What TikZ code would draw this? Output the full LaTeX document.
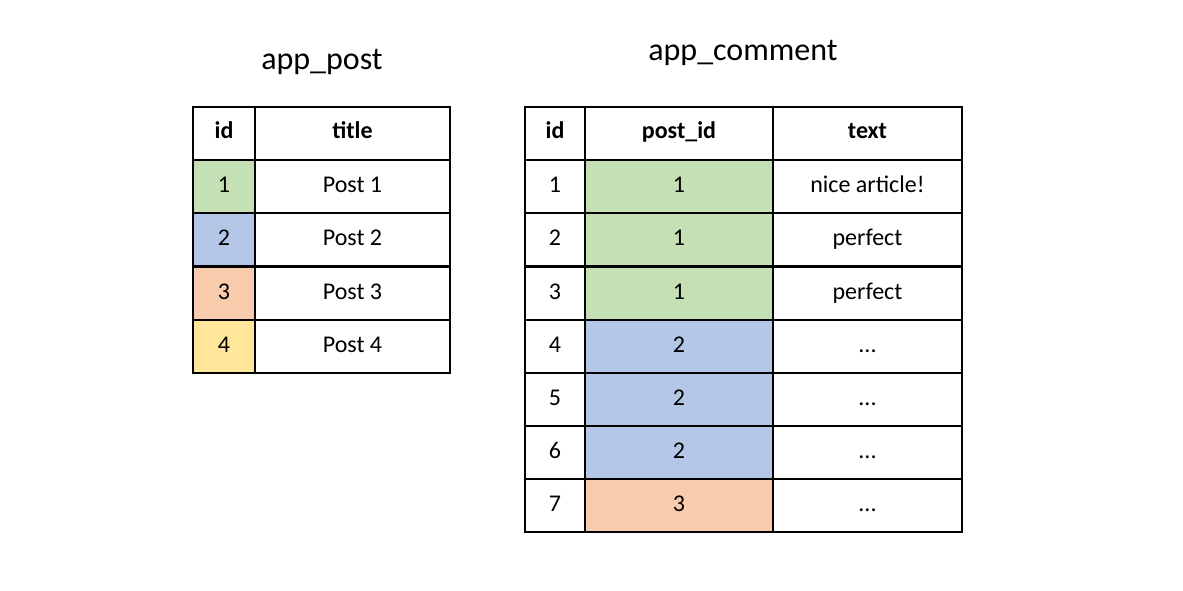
\documentclass[tikz,border=0pt]{standalone}
\usepackage{fontspec}
\setmainfont{Carlito}
\definecolor{cg}{HTML}{C5E0B4}
\definecolor{cb}{HTML}{B4C7E7}
\definecolor{co}{HTML}{F8CBAD}
\definecolor{cy}{HTML}{FFE699}
\newcommand\mydots{...}
\begin{document}
\begin{tikzpicture}[x=1pt,y=-1pt,
  cell/.style={draw=black,line width=1.2pt,inner sep=0pt,outer sep=0pt,anchor=north west,font=\fontsize{24}{28}\selectfont,text height=15pt,text depth=4pt},
  hd/.style={cell,font=\fontsize{24}{28}\selectfont\bfseries},
  ttl/.style={font=\fontsize{32}{38}\selectfont}]
\useasboundingbox (0,0) rectangle (1183,591);
\node[ttl] (t1) at (322,62) {app\_post};
\node[ttl] (t2) at (743,53) {app\_comment};
% left table
\node[hd,minimum width=62pt,minimum height=53pt] (ph1) at (193,107) {id};
\node[hd,minimum width=195pt,minimum height=53pt] (ph2) at (255,107) {title};
\foreach \i/\c/\y in {1/cg/160,2/cb/213,3/co/267,4/cy/320}{
  \node[cell,fill=\c,minimum width=62pt,minimum height=53pt] (pa\i) at (193,\y) {\i};
  \node[cell,minimum width=195pt,minimum height=53pt] (pb\i) at (255,\y) {Post \i};
}
% right table
\node[hd,minimum width=60pt,minimum height=53pt] (ch1) at (525,107) {id};
\node[hd,minimum width=188pt,minimum height=53pt] (ch2) at (585,107) {post\_id};
\node[hd,minimum width=189pt,minimum height=53pt] (ch3) at (773,107) {text};
\foreach \i/\p/\c/\t/\y in {1/1/cg/{nice article!}/160,2/1/cg/perfect/213,3/1/cg/perfect/267,4/2/cb/\mydots/320,5/2/cb/\mydots/373,6/2/cb/\mydots/426,7/3/co/\mydots/479}{
  \node[cell,minimum width=60pt,minimum height=53pt] (ca\i) at (525,\y) {\i};
  \node[cell,fill=\c,minimum width=188pt,minimum height=53pt] (cb\i) at (585,\y) {\p};
  \node[cell,minimum width=189pt,minimum height=53pt] (cc\i) at (773,\y) {\t};
}
\end{tikzpicture}
\end{document}
